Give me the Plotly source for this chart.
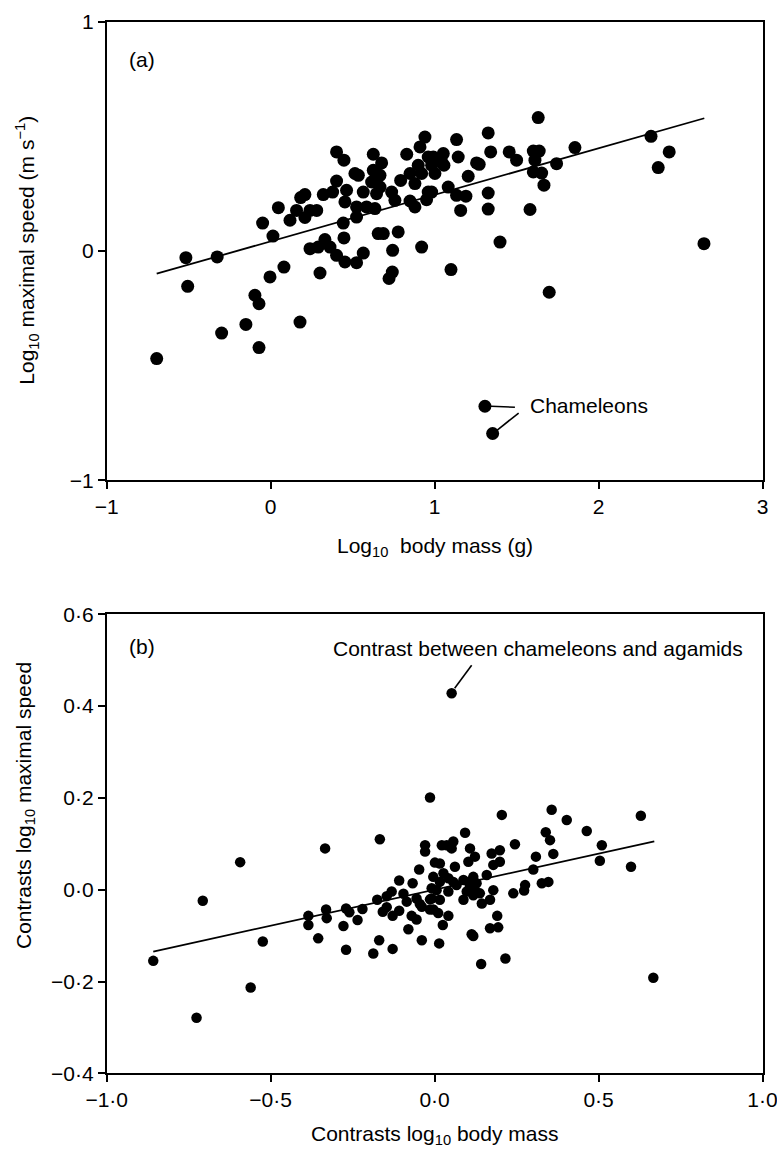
import plotly.graph_objects as go

W, H = 777, 1151

# ---------------- Panel (a) data ----------------
a_mass = [-0.517, -0.326, -0.049, 0.014, 0.047, 0.118, 0.158, 0.183, 0.209, 0.209,
          0.240, 0.281, 0.321, 0.378, 0.402, 0.447, 0.402, 0.463, 0.453, 0.443,
          0.447, 0.240, 0.290, 0.331, 0.362, 0.402, 0.565, 0.514, 0.535, 0.524,
          0.524, 0.565, 0.585, 0.626, 0.677, 0.626, 0.667, 0.616, 0.667, 0.646,
          0.636, 0.656, 0.687, 0.778, 0.744, 0.921, 0.738, 0.758, 0.793, 0.830,
          0.850, 0.880, 0.850, 0.880, 0.911, 0.941, 0.900, 0.921, 0.961, 0.961,
          0.992, 1.053, 0.982, 1.043, 1.057, 1.002, 1.134, 1.144, 1.327, 1.342,
          1.256, 1.272, 1.205, 1.083, 0.982, 0.951, 1.134, 1.191, 1.159, 1.327,
          1.327, 1.582, 1.455, 1.500, 1.632, 1.602, 1.638, 1.612, 1.602, 1.653,
          1.667, 1.744, 1.856, 2.320, 2.431, 2.364, 2.643, 1.399, -0.506, -0.695,
          -0.299, -0.151, -0.071, -0.096, -0.071, -0.004, 0.081, 0.179, 0.453, 0.524,
          0.301, 0.742, 0.722, 1.100, 1.699, 1.307, 1.354]
a_speed = [-0.029, -0.026, 0.122, 0.065, 0.189, 0.134, 0.177, 0.233, 0.246, 0.146,
           0.177, 0.177, 0.246, 0.257, 0.432, 0.396, 0.305, 0.265, 0.214, 0.122,
           0.057, 0.010, 0.017, 0.050, 0.017, -0.019, -0.009, 0.338, 0.330, 0.192,
           0.148, 0.257, 0.192, 0.422, 0.384, 0.352, 0.330, 0.301, 0.279, 0.250,
           0.185, 0.076, 0.076, 0.083, 0.003, 0.017, 0.257, 0.221, 0.308, 0.422,
           0.338, 0.294, 0.218, 0.192, 0.454, 0.497, 0.374, 0.338, 0.410, 0.257,
           0.410, 0.425, 0.374, 0.388, 0.374, 0.338, 0.486, 0.410, 0.515, 0.432,
           0.384, 0.378, 0.326, 0.279, 0.257, 0.224, 0.243, 0.239, 0.177, 0.253,
           0.183, 0.181, 0.432, 0.396, 0.582, 0.436, 0.436, 0.396, 0.345, 0.340,
           0.287, 0.381, 0.451, 0.500, 0.432, 0.364, 0.032, 0.039, -0.154, -0.469,
           -0.358, -0.320, -0.421, -0.193, -0.230, -0.113, -0.070, -0.310, -0.048, -0.051,
           -0.096, -0.092, -0.120, -0.081, -0.180, -0.677, -0.796]
a_fit_slope, a_fit_intercept = 0.203, 0.042
a_fit_x = [-0.695, 2.645]
a_chameleons = [(1.307, -0.677), (1.354, -0.796)]

a_xticks = [-1, 0, 1, 2, 3]
a_xticklabels = ["\u22121", "0", "1", "2", "3"]
a_yticks = [-1, 0, 1]
a_yticklabels = ["\u22121", "0", "1"]

# ---------------- Panel (b) data ----------------
b_mass = [-0.014, -0.167, -0.334, -0.029, 0.052, 0.205, 0.357, 0.403, 0.629, 0.464,
          0.339, 0.352, 0.510, 0.093, 0.057, 0.022, 0.037, 0.108, 0.199, 0.245,
          -0.593, -0.707, -0.858, -0.726, -0.561, -0.524, -0.029, -0.047, -0.108, -0.067,
          -0.131, -0.146, -0.095, -0.175, -0.085, -0.055, -0.045, -0.014, -0.039, -0.014,
          -0.146, -0.158, -0.128, -0.108, -0.070, -0.055, -0.080, -0.039, -0.169, -0.187,
          -0.128, -0.220, -0.235, -0.270, -0.260, -0.278, -0.270, -0.331, -0.329, -0.385,
          -0.385, -0.355, 0.123, 0.103, 0.174, 0.199, 0.179, 0.309, 0.362, 0.301,
          0.504, 0.599, 0.001, 0.016, 0.062, -0.004, 0.027, 0.016, 0.042, 0.057,
          0.067, 0.088, 0.103, 0.118, 0.128, 0.108, 0.123, 0.098, 0.138, 0.159,
          -0.009, 0.006, 0.042, -0.009, 0.016, 0.088, 0.118, 0.144, 0.169, 0.179,
          0.240, 0.276, 0.273, 0.327, 0.347, -0.004, 0.011, 0.042, 0.025, 0.014,
          0.113, 0.118, 0.169, 0.194, 0.191, 0.142, 0.216, 0.667, 0.052]
b_speed = [0.201, 0.110, 0.090, 0.097, 0.428, 0.163, 0.174, 0.152, 0.161, 0.128,
           0.125, 0.108, 0.097, 0.124, 0.105, 0.097, 0.097, 0.090, 0.086, 0.099,
           0.060, -0.024, -0.155, -0.279, -0.213, -0.113, 0.083, 0.044, 0.020, 0.014,
           -0.004, -0.014, -0.009, -0.022, -0.026, -0.019, -0.031, -0.021, -0.037, -0.043,
           -0.038, -0.048, -0.057, -0.046, -0.057, -0.065, -0.086, -0.110, -0.110, -0.139,
           -0.129, -0.042, -0.066, -0.041, -0.049, -0.079, -0.131, -0.043, -0.062, -0.057,
           -0.077, -0.106, 0.072, 0.061, 0.079, 0.061, 0.054, 0.072, 0.078, 0.044,
           0.063, 0.050, 0.059, 0.057, 0.050, 0.028, 0.036, 0.017, 0.025, 0.017,
           0.010, 0.021, 0.017, 0.028, 0.014, 0.007, -0.001, -0.004, -0.008, 0.032,
           0.003, -0.001, -0.004, -0.019, -0.022, -0.022, -0.012, -0.030, -0.022, -0.001,
           -0.008, 0.010, -0.002, 0.014, 0.017, -0.043, -0.051, -0.057, -0.077, -0.117,
           -0.097, -0.101, -0.084, -0.082, -0.057, -0.162, -0.150, -0.192, 0.090]
b_fit_slope, b_fit_intercept = 0.157, 0.0
b_fit_x = [-0.858, 0.670]
b_outlier = (0.052, 0.428)

b_xticks = [-1.0, -0.5, 0.0, 0.5, 1.0]
b_xticklabels = ["\u22121\u00b70", "\u22120\u00b75", "0\u00b70", "0\u00b75", "1\u00b70"]
b_yticks = [-0.4, -0.2, 0.0, 0.2, 0.4, 0.6]
b_yticklabels = ["\u22120\u00b74", "\u22120\u00b72", "0\u00b70", "0\u00b72", "0\u00b74", "0\u00b76"]

# ---------------- Figure ----------------
FONT = "Liberation Sans, Arial, Helvetica, sans-serif"
TICKSIZE = 21
TEXTSIZE = 21


def px(x):
    return x / W


def py(y):
    return 1 - y / H


fig = go.Figure()

fig.add_trace(go.Scatter(x=a_mass, y=a_speed, mode="markers",
                         marker=dict(color="black", size=13, line=dict(width=0)),
                         xaxis="x", yaxis="y", showlegend=False))
fig.add_trace(go.Scatter(x=a_fit_x, y=[a_fit_intercept + a_fit_slope * v for v in a_fit_x],
                         mode="lines", line=dict(color="black", width=1.8),
                         xaxis="x", yaxis="y", showlegend=False))

fig.add_trace(go.Scatter(x=b_mass, y=b_speed, mode="markers",
                         marker=dict(color="black", size=10.5, line=dict(width=0)),
                         xaxis="x2", yaxis="y2", showlegend=False))
fig.add_trace(go.Scatter(x=b_fit_x, y=[b_fit_intercept + b_fit_slope * v for v in b_fit_x],
                         mode="lines", line=dict(color="black", width=1.8),
                         xaxis="x2", yaxis="y2", showlegend=False))

dom_x = [106.7 / W, 762.5 / W]
axis_common = dict(showgrid=False, zeroline=False, showline=True, linecolor="black",
                   linewidth=1.6, mirror=True, ticks="outside", ticklen=7, tickwidth=1.6,
                   tickcolor="black", tickfont=dict(family=FONT, size=TICKSIZE, color="black"),
                   automargin=False, fixedrange=True, ticklabeloverflow="allow")

fig.update_layout(
    width=W, height=H,
    margin=dict(l=0, r=0, t=0, b=0),
    paper_bgcolor="white", plot_bgcolor="white",
    font=dict(family=FONT, size=TEXTSIZE, color="black"),
    xaxis=dict(domain=dom_x, range=[-1, 3], tickvals=a_xticks, ticktext=a_xticklabels,
               anchor="y", **axis_common),
    yaxis=dict(domain=[py(480.3), py(21.7)], range=[-1, 1], tickvals=a_yticks,
               ticktext=a_yticklabels, anchor="x", **axis_common),
    xaxis2=dict(domain=dom_x, range=[-1, 1], tickvals=b_xticks, ticktext=b_xticklabels,
                anchor="y2", **axis_common),
    yaxis2=dict(domain=[py(1073.3), py(614.3)], range=[-0.4, 0.6], tickvals=b_yticks,
                ticktext=b_yticklabels, anchor="x2", **axis_common),
)

ann = []
# axis titles
ann.append(dict(text="Log<sub>10</sub>\u00a0 body mass (g)", x=px(434.6), y=py(546.7),
                xref="paper", yref="paper", showarrow=False, xanchor="center", yanchor="middle"))
ann.append(dict(text="Log<sub>10</sub> maximal speed (m s<sup>\u22121</sup>)", x=px(27), y=py(250.7),
                xref="paper", yref="paper", showarrow=False, textangle=-90,
                xanchor="center", yanchor="middle"))
ann.append(dict(text="Contrasts log<sub>10</sub> body mass", x=px(434.6), y=py(1135),
                xref="paper", yref="paper", showarrow=False, xanchor="center", yanchor="middle"))
ann.append(dict(text="Contrasts log<sub>10</sub> maximal speed", x=px(25), y=py(806),
                xref="paper", yref="paper", showarrow=False, textangle=-90,
                xanchor="center", yanchor="middle"))
# panel labels
ann.append(dict(text="(a)", x=px(126.7), y=py(59.3), xref="paper", yref="paper",
                showarrow=False, xanchor="left", yanchor="middle"))
ann.append(dict(text="(b)", x=px(126.7), y=py(646.7), xref="paper", yref="paper",
                showarrow=False, xanchor="left", yanchor="middle"))
# annotation texts
ann.append(dict(text="Chameleons", x=px(528.3), y=py(405), xref="paper", yref="paper",
                showarrow=False, xanchor="left", yanchor="middle"))
ann.append(dict(text="Contrast between chameleons and agamids", x=px(538.3), y=py(648.3),
                xref="paper", yref="paper", showarrow=False, xanchor="center", yanchor="middle"))
fig.update_layout(annotations=ann)

# leader lines: anchored at the data points, lengths in pixels
lead = dict(type="line", xsizemode="pixel", ysizemode="pixel",
            line=dict(color="black", width=1.6), layer="above")
fig.add_shape(xref="x", yref="y", xanchor=a_chameleons[0][0], yanchor=a_chameleons[0][1],
              x0=6, x1=30, y0=0, y1=-1, **lead)
fig.add_shape(xref="x", yref="y", xanchor=a_chameleons[1][0], yanchor=a_chameleons[1][1],
              x0=4, x1=26, y0=3, y1=20.5, **lead)
fig.add_shape(xref="x2", yref="y2", xanchor=b_outlier[0], yanchor=b_outlier[1],
              x0=3, x1=20, y0=5, y1=28, **lead)

fig.write_html("out.html")
